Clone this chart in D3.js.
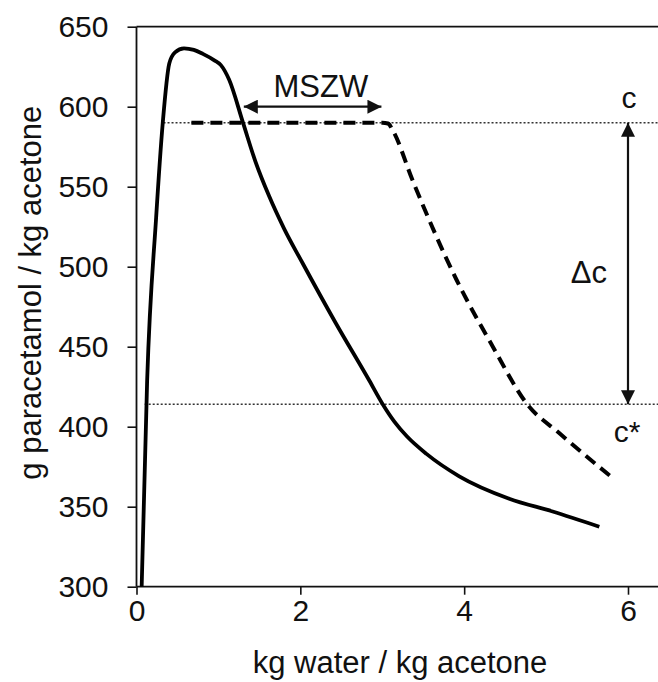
<!DOCTYPE html>
<html>
<head>
<meta charset="utf-8">
<script src="https://cdn.jsdelivr.net/npm/d3@7"></script>
<style>
  html, body { margin: 0; padding: 0; background: #fff; }
  svg { display: block; }
  text { font-family: "Liberation Sans", Arial, Helvetica, sans-serif; fill: #111; }
</style>
</head>
<body>
<svg id="chart" width="658" height="682"></svg>
<script>
// ---- data ----
const solubilityX = [0.063, 0.13, 0.24, 0.32, 0.40, 0.47, 0.58, 0.70, 0.81, 0.95, 1.03, 1.13, 1.30, 1.45, 1.62, 1.80, 2.03, 2.43, 2.84, 3.0, 3.15, 3.30, 3.54, 3.94, 4.55, 5.08, 5.65];
const solubilityY = [300, 429, 531, 589.6, 627, 634, 636.5, 635.5, 633, 629, 626, 617, 590, 566, 544, 524, 502, 465, 429, 414.5, 403, 394, 383, 369, 355, 347, 337.5];
const mszwX = [0.67, 1.5, 2.5, 3.0, 3.07, 3.13, 3.37, 3.905, 4.35, 4.77, 5.16, 5.8];
const mszwY = [590, 590, 590, 590, 589.5, 585, 554, 492, 450, 414, 396, 368.5];
const xTicks = [0, 2, 4, 6];
const yTicks = [300, 350, 400, 450, 500, 550, 600, 650];
const cLevel = 590;       // supersaturated concentration c
const cStarLevel = 414;   // equilibrium concentration c*
const mszwArrow = [1.31, 2.99];  // x extent of MSZW arrow
const mszwArrowY = 600;
const mszwLabelX = 2.25;
const deltaCX = 6.0;
const xTitle = "kg water / kg acetone";
const yTitle = "g paracetamol / kg acetone";

// ---- layout ----
const W = 658, H = 682;
const svg = d3.select("#chart");
const x = d3.scaleLinear().domain([0, 6]).range([136.5, 628]);
const y = d3.scaleLinear().domain([300, 650]).range([586.7, 26.7]);

const defs = svg.append("defs");
defs.append("marker").attr("id", "arrow")
  .attr("viewBox", "0 0 10 10").attr("refX", 10).attr("refY", 5)
  .attr("markerWidth", 14).attr("markerHeight", 14)
  .attr("markerUnits", "userSpaceOnUse")
  .attr("orient", "auto-start-reverse")
  .append("path").attr("d", "M0,0 L10,5 L0,10 Z").attr("fill", "#111");

// axes
const yAxis = d3.axisLeft(y).tickValues(yTicks).tickSize(9).tickPadding(19).tickFormat(d3.format("d"));
const gy = svg.append("g").attr("transform", `translate(${x(0)},0)`).call(yAxis);
gy.select(".domain").remove();
gy.selectAll(".tick line").attr("stroke", "#111").attr("stroke-width", 1.6);
gy.selectAll(".tick text").attr("font-size", 30).attr("fill", "#111");

const xAxis = d3.axisBottom(x).tickValues(xTicks).tickSize(8).tickPadding(5).tickFormat(d3.format("d"));
const gx = svg.append("g").attr("transform", `translate(0,${y(300)})`).call(xAxis);
gx.select(".domain").remove();
gx.selectAll(".tick line").attr("stroke", "#111").attr("stroke-width", 1.6);
gx.selectAll(".tick text").attr("font-size", 30).attr("fill", "#111");

// frame lines (left, bottom, top)
svg.append("line").attr("x1", x(0)).attr("x2", x(0)).attr("y1", y(650)).attr("y2", y(300))
  .attr("stroke", "#111").attr("stroke-width", 1.8);
svg.append("line").attr("x1", x(0)).attr("x2", W).attr("y1", y(300)).attr("y2", y(300))
  .attr("stroke", "#111").attr("stroke-width", 1.8);
svg.append("line").attr("x1", x(0)).attr("x2", W).attr("y1", y(650)).attr("y2", y(650))
  .attr("stroke", "#111").attr("stroke-width", 1.8);

// axis titles
svg.append("text").attr("x", 400).attr("y", 673).attr("text-anchor", "middle")
  .attr("font-size", 31).text(xTitle);
svg.append("text").attr("transform", `translate(41,${(y(650) + y(300)) / 2 - 14}) rotate(-90)`)
  .attr("text-anchor", "middle").attr("font-size", 31).text(yTitle);

// dotted reference lines c and c*
svg.append("line").attr("x1", x(0.33)).attr("x2", W).attr("y1", y(cLevel)).attr("y2", y(cLevel))
  .attr("stroke", "#333").attr("stroke-width", 1.4).attr("stroke-dasharray", "2,2");
svg.append("line").attr("x1", x(0.1)).attr("x2", W).attr("y1", y(cStarLevel)).attr("y2", y(cStarLevel))
  .attr("stroke", "#333").attr("stroke-width", 1.4).attr("stroke-dasharray", "2,2");

// curves
const solData = solubilityX.map((v, i) => [v, solubilityY[i]]);
const mszwData = mszwX.map((v, i) => [v, mszwY[i]]);
const line = d3.line().x(d => x(d[0])).y(d => y(d[1])).curve(d3.curveMonotoneX);

svg.append("path").datum(solData).attr("d", line)
  .attr("fill", "none").attr("stroke", "#000").attr("stroke-width", 3.8)
  .attr("stroke-linejoin", "round");
svg.append("path").datum(mszwData).attr("d", line)
  .attr("fill", "none").attr("stroke", "#000").attr("stroke-width", 4)
  .attr("stroke-dasharray", "12,7");

// MSZW arrow
svg.append("line").attr("x1", x(mszwArrow[0])).attr("x2", x(mszwArrow[1]))
  .attr("y1", y(mszwArrowY)).attr("y2", y(mszwArrowY))
  .attr("stroke", "#111").attr("stroke-width", 2.2)
  .attr("marker-start", "url(#arrow)").attr("marker-end", "url(#arrow)");
svg.append("text").attr("x", x(mszwLabelX)).attr("y", y(mszwArrowY) - 10)
  .attr("text-anchor", "middle").attr("font-size", 31).text("MSZW");

// Δc arrow
svg.append("line").attr("x1", x(deltaCX)).attr("x2", x(deltaCX))
  .attr("y1", y(cLevel)).attr("y2", y(cStarLevel))
  .attr("stroke", "#111").attr("stroke-width", 2.2)
  .attr("marker-start", "url(#arrow)").attr("marker-end", "url(#arrow)");
svg.append("text").attr("x", x(deltaCX) - 21).attr("y", (y(cLevel) + y(cStarLevel)) / 2 + 19)
  .attr("text-anchor", "end").attr("font-size", 31).text("Δc");
svg.append("text").attr("x", x(deltaCX) + 1).attr("y", y(cLevel) - 15)
  .attr("text-anchor", "middle").attr("font-size", 30).text("c");
svg.append("text").attr("x", x(deltaCX) - 1).attr("y", y(cStarLevel) + 38)
  .attr("text-anchor", "middle").attr("font-size", 30).text("c*");
</script>
</body>
</html>
